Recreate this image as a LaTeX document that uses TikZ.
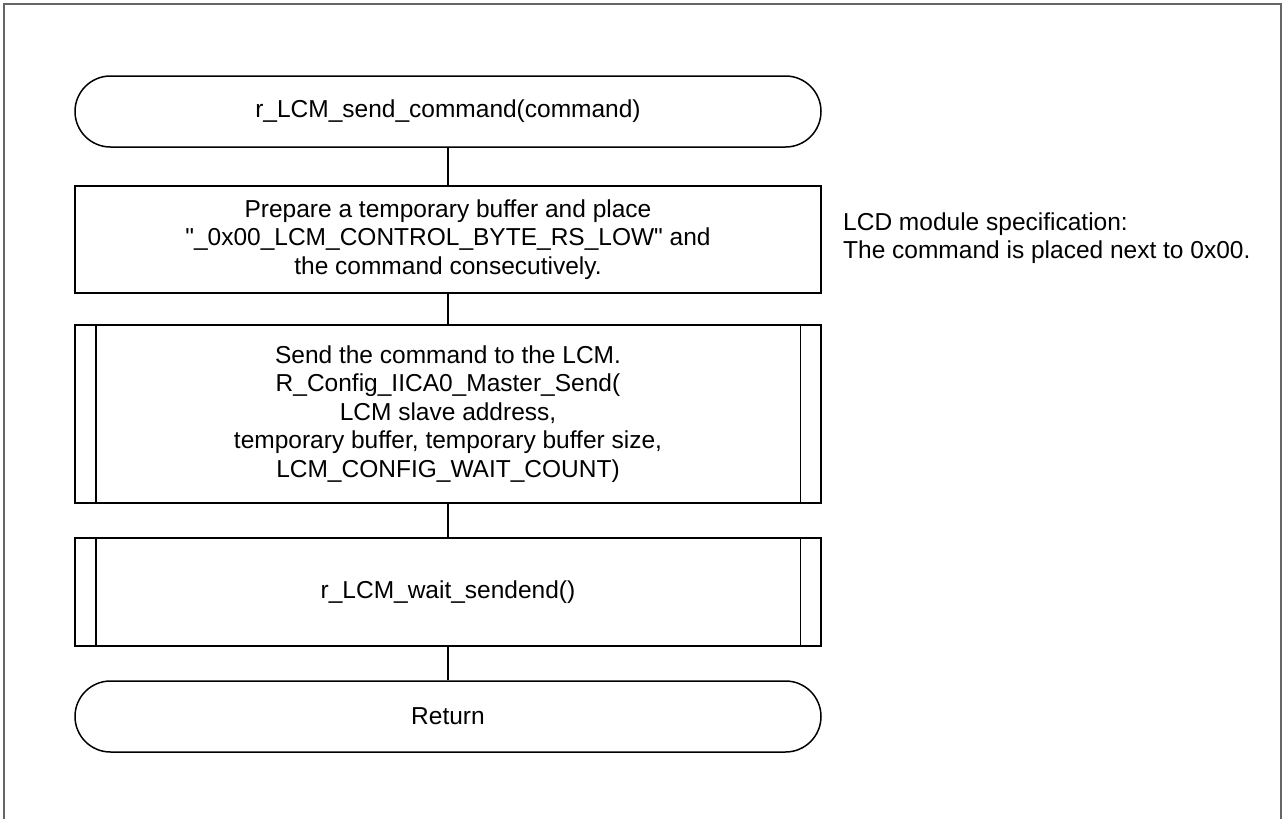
\documentclass[tikz,border=0pt]{standalone}
\usepackage{fontspec}
\setmainfont{Liberation Sans}
\begin{document}
\begin{tikzpicture}[x=1pt,y=-1pt,
  every node/.style={font=\fontsize{24.5}{28.5}\selectfont, inner sep=0pt},
  flow/.style={draw=black, line width=1.5pt},
  term/.style={flow, rectangle, rounded corners=35.5pt, minimum width=746pt, minimum height=71pt, align=center},
  proc/.style={flow, rectangle, minimum width=746pt, align=center},
  conn/.style={draw=black, line width=1.5pt},
  frame/.style={draw=black!60, line width=1.3pt}
]
\useasboundingbox (0,0) rectangle (1282,819);
\draw[frame] (4,819) -- (4,4) -- (1281,4) -- (1281,819);

\node[term] (t1) at (448,111.5) {r\_LCM\_send\_command(command)};
\node[proc, minimum height=107pt] (b1) at (448,239.5)
  {Prepare a temporary buffer and place\\\textquotedbl\_0x00\_LCM\_CONTROL\_BYTE\_RS\_LOW\textquotedbl{} and\\the command consecutively.};
\node[proc, minimum height=178pt] (b2) at (448,414)
  {Send the command to the LCM.\\R\_Config\_IICA0\_Master\_Send(\\LCM slave address,\\temporary buffer, temporary buffer size,\\LCM\_CONFIG\_WAIT\_COUNT)};
\node[proc, minimum height=108pt] (b3) at (448,592) {r\_LCM\_wait\_sendend()};
\node[term] (t2) at (448,716.5) {Return};

\foreach \b in {b2,b3}{
  \draw[conn] ([xshift=21.5pt]\b.north west) -- ([xshift=21.5pt]\b.south west);
  \draw[conn] ([xshift=-21.5pt]\b.north east) -- ([xshift=-21.5pt]\b.south east);
}

\draw[conn] (t1) -- (b1);
\draw[conn] (b1) -- (b2);
\draw[conn] (b2) -- (b3);
\draw[conn] (b3) -- (t2);

\node[anchor=west, align=left] (note) at (843,238)
  {LCD module specification:\\The command is placed next to 0x00.};
\end{tikzpicture}
\end{document}
